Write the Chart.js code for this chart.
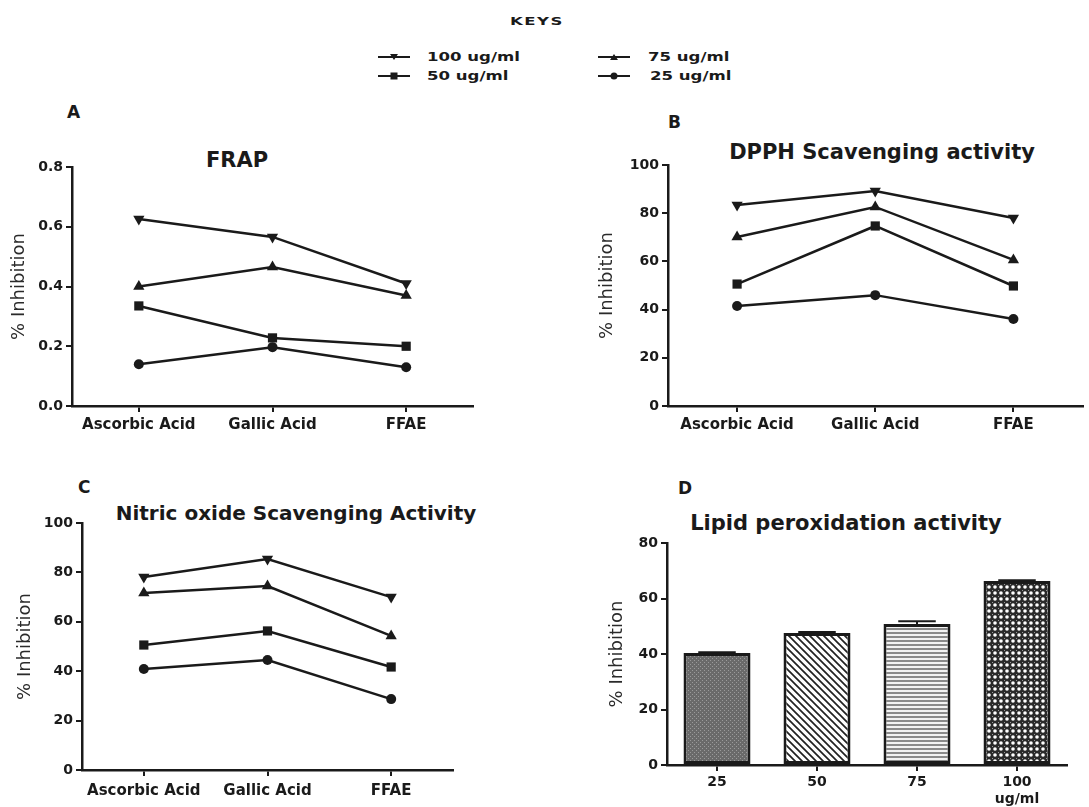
<!DOCTYPE html>
<html>
<head>
<meta charset="utf-8">
<script src="https://cdn.jsdelivr.net/npm/chart.js@4.4.1/dist/chart.umd.min.js"></script>
<style>
  html, body { margin: 0; padding: 0; background: #fff; }
  body { width: 1089px; height: 807px; position: relative; overflow: hidden; font-family: "DejaVu Sans", sans-serif; color: #1a1a1a; }
  canvas { position: absolute; }
  .txt { position: absolute; white-space: nowrap; line-height: 1; }
  .tag { font-weight: bold; font-size: 17px; transform: translateY(-50%); }
  .title { font-weight: bold; transform: translate(-50%, -50%); }
  .key { font-weight: bold; font-size: 12px; transform-origin: 0 50%; transform: translateY(-50%) scaleX(1.38); }
  .keys-head { font-weight: bold; font-size: 11px; letter-spacing: 1px; transform: translate(-50%, -50%) scaleX(1.5); }
  svg { position: absolute; }
</style>
</head>
<body>

<div class="txt keys-head" style="left:537px; top:21px;">KEYS</div>
<div id="legend"></div>

<div class="txt tag" style="left:67px; top:112px;">A</div>
<div class="txt tag" style="left:668px; top:122px;">B</div>
<div class="txt tag" style="left:78px; top:487px;">C</div>
<div class="txt tag" style="left:678px; top:488px;">D</div>

<div class="txt title" style="left:237px; top:160px; font-size:21px;">FRAP</div>
<div class="txt title" style="left:882px; top:152px; font-size:21px;">DPPH Scavenging activity</div>
<div class="txt title" style="left:296px; top:513px; font-size:20px;">Nitric oxide Scavenging Activity</div>
<div class="txt title" style="left:846px; top:523px; font-size:21px;">Lipid peroxidation activity</div>

<canvas id="frapChart" width="520" height="300" style="left:0; top:140px;"></canvas>
<canvas id="dpphChart" width="499" height="310" style="left:590px; top:130px;"></canvas>
<canvas id="noChart" width="520" height="312" style="left:0; top:495px;"></canvas>
<canvas id="lipidChart" width="499" height="307" style="left:590px; top:500px;"></canvas>

<script>
// categories
const compounds = ['Ascorbic Acid', 'Gallic Acid', 'FFAE'];
const doses = ['100 ug/ml', '75 ug/ml', '50 ug/ml', '25 ug/ml'];

// A - FRAP
const frap100 = [0.626, 0.566, 0.41];
const frap75 = [0.40, 0.465, 0.37];
const frap50 = [0.335, 0.228, 0.20];
const frap25 = [0.14, 0.197, 0.13];

// B - DPPH
const dpph100 = [83.4, 89.2, 78.0];
const dpph75 = [70.1, 82.6, 60.6];
const dpph50 = [50.6, 74.7, 49.8];
const dpph25 = [41.5, 46.0, 36.1];

// C - Nitric oxide
const no100 = [78.1, 85.4, 70.0];
const no75 = [71.7, 74.5, 54.3];
const no50 = [50.6, 56.3, 41.7];
const no25 = [40.9, 44.5, 28.7];

// D - Lipid peroxidation
const lipidDoses = ['25', '50', '75', ['100', 'ug/ml']];
const lipidValues = [40.4, 47.6, 50.8, 66.3];
const lipidErrors = [0.2, 0.3, 1.0, 0.3];

const INK = '#1a1a1a';

// marker per dose: 100 inverted triangle, 75 triangle, 50 square, 25 circle
const markers = [
    { style: 'triangle', rot: 180, r: 6.5 },
    { style: 'triangle', rot: 0, r: 6.5 },
    { style: 'rect', rot: 0, r: 6.5 },
    { style: 'circle', rot: 0, r: 5 }
];

// legend keys (html + svg)
function drawKeys() {
    const holder = document.getElementById('legend');
    const spots = [
        { lx: 378, tx: 427, y: 57 },
        { lx: 598, tx: 648, y: 57 },
        { lx: 378, tx: 427, y: 76 },
        { lx: 598, tx: 650, y: 76 }
    ];
    const shapes = [
        '<polygon points="12,3 20,3 16,9" />',
        '<polygon points="12,9 20,9 16,3" />',
        '<rect x="12.5" y="2.5" width="7" height="7" />',
        '<circle cx="16" cy="6" r="3.5" />'
    ];
    doses.forEach((d, i) => {
        const s = spots[i];
        holder.insertAdjacentHTML('beforeend',
            `<svg width="32" height="12" style="left:${s.lx}px; top:${s.y - 6}px;">
                <line x1="0" y1="6" x2="32" y2="6" stroke="${INK}" stroke-width="2"/>
                <g fill="${INK}">${shapes[i]}</g>
            </svg>
            <div class="txt key" style="left:${s.tx}px; top:${s.y}px;">${d}</div>`);
    });
}

function lineSet(values, i) {
    const m = markers[i];
    return {
        label: doses[i],
        data: values,
        borderColor: INK,
        backgroundColor: INK,
        borderWidth: 2.5,
        pointStyle: m.style,
        pointRotation: m.rot,
        pointRadius: m.r,
        pointBorderWidth: 0,
        tension: 0,
        clip: false
    };
}

function axisCommon() {
    return {
        border: { display: true, color: INK, width: 2.5 },
        grid: { drawOnChartArea: false, drawTicks: true, tickLength: 6, color: INK, lineWidth: 2, offset: false }
    };
}

function buildChart(id, type, labels, datasets, opt) {
    return new Chart(document.getElementById(id), {
        type: type,
        data: { labels: labels, datasets: datasets },
        options: {
            responsive: false,
            animation: false,
            layout: { padding: { top: opt.top, right: opt.right, left: 0, bottom: 0 } },
            plugins: { legend: { display: false }, tooltip: { enabled: false } },
            scales: {
                x: Object.assign(axisCommon(), {
                    offset: true,
                    ticks: { color: INK, padding: opt.xPad, font: { family: 'DejaVu Sans', size: opt.xFont || 15, weight: 'bold' }, maxRotation: 0, autoSkip: false },
                    afterFit: s => { s.height = opt.xh; }
                }),
                y: Object.assign(axisCommon(), {
                    min: 0,
                    max: opt.max,
                    ticks: {
                        stepSize: opt.step,
                        color: INK,
                        padding: 3,
                        font: { family: 'DejaVu Sans', size: 14, weight: 'bold' },
                        callback: opt.fmt || (v => v)
                    },
                    title: {
                        display: true,
                        text: '% Inhibition',
                        color: '#2a2a2a',
                        font: { family: 'DejaVu Sans', size: 18 },
                        padding: { top: opt.titlePad, bottom: opt.titlePad }
                    },
                    afterFit: s => { s.width = opt.yw; }
                })
            }
        },
        plugins: opt.plugins || []
    });
}

// hatch patterns for the bar panel
function makePattern(size, paint) {
    const c = document.createElement('canvas');
    c.width = size; c.height = size;
    const g = c.getContext('2d');
    paint(g, size);
    return g.createPattern(c, 'repeat');
}

const fillStipple = makePattern(4, (g, s) => {
    g.fillStyle = '#6a6a6a'; g.fillRect(0, 0, s, s);
    g.fillStyle = '#9a9a9a'; g.fillRect(0, 0, 1, 1); g.fillRect(2, 2, 1, 1);
});
const fillDiagonal = makePattern(7, (g, s) => {
    g.fillStyle = '#fff'; g.fillRect(0, 0, s, s);
    g.strokeStyle = '#222'; g.lineWidth = 1.7;
    g.beginPath();
    g.moveTo(0, 0); g.lineTo(s, s);
    g.moveTo(-s / 2, s / 2); g.lineTo(s / 2, s * 1.5);
    g.moveTo(s / 2, -s / 2); g.lineTo(s * 1.5, s / 2);
    g.stroke();
});
const fillHorizontal = makePattern(4, (g, s) => {
    g.fillStyle = '#f2f2f2'; g.fillRect(0, 0, s, s);
    g.fillStyle = '#8a8a8a'; g.fillRect(0, 0, s, 2);
});
const fillChecker = makePattern(6, (g, s) => {
    g.fillStyle = '#2a2a2a'; g.fillRect(0, 0, s, s);
    g.fillStyle = '#fff';
    g.beginPath(); g.arc(s / 2, s / 2, 1.8, 0, Math.PI * 2); g.fill();
    g.fillStyle = '#9a9a9a';
    g.fillRect(0, 0, 1, 1);
});

const errorBars = {
    id: 'errorBars',
    afterDatasetsDraw(chart) {
        const meta = chart.getDatasetMeta(0);
        const y = chart.scales.y;
        const ctx = chart.ctx;
        ctx.save();
        ctx.strokeStyle = INK;
        ctx.lineWidth = 2;
        meta.data.forEach((bar, i) => {
            const top = y.getPixelForValue(lipidValues[i] + lipidErrors[i]);
            const base = y.getPixelForValue(lipidValues[i]);
            const half = bar.width * 0.28;
            ctx.beginPath();
            ctx.moveTo(bar.x, top); ctx.lineTo(bar.x, base);
            ctx.moveTo(bar.x - half, top); ctx.lineTo(bar.x + half, top);
            ctx.stroke();
        });
        ctx.restore();
    }
};

window.addEventListener('load', () => {
    drawKeys();

    buildChart('frapChart', 'line', compounds,
        [frap100, frap75, frap50, frap25].map(lineSet),
        { max: 0.8, step: 0.2, fmt: v => v.toFixed(1), top: 27, right: 47, xh: 34, yw: 72, titlePad: 9, xPad: 4 });

    buildChart('dpphChart', 'line', compounds,
        [dpph100, dpph75, dpph50, dpph25].map(lineSet),
        { max: 100, step: 20, top: 35, right: 2, xh: 34, yw: 78, titlePad: 7, xPad: 4 });

    buildChart('noChart', 'line', compounds,
        [no100, no75, no50, no25].map(lineSet),
        { max: 100, step: 20, top: 28, right: 67, xh: 37, yw: 82, titlePad: 15, xPad: 6 });

    buildChart('lipidChart', 'bar', lipidDoses,
        [{
            data: lipidValues,
            backgroundColor: [fillStipple, fillDiagonal, fillHorizontal, fillChecker],
            borderColor: INK,
            borderWidth: 3,
            borderSkipped: false,
            barPercentage: 0.67,
            categoryPercentage: 1.0
        }],
        { max: 80, step: 20, top: 43, right: 22, xh: 42, yw: 77, titlePad: 17, xPad: 3, xFont: 14, plugins: [errorBars] });
});
</script>
</body>
</html>
